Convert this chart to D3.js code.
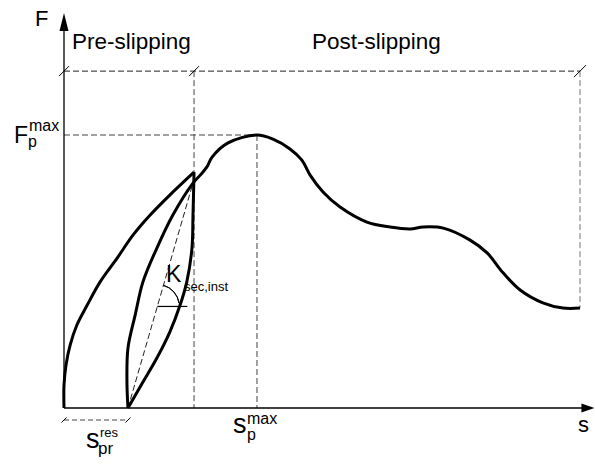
<!DOCTYPE html>
<html>
<head>
<meta charset="utf-8">
<script src="https://cdn.jsdelivr.net/npm/d3@7"></script>
<style>
  body { margin: 0; background: #fff; }
  text { font-family: "Liberation Sans", Arial, sans-serif; fill: #000; }
</style>
</head>
<body>
<svg id="dessin" width="595" height="465"></svg>
<script>
// courbes (s, F) - unités arbitraires, Fmax = 100
const loading = [[0, 0], [0, 8.4], [0.4, 15.8], [1.2, 23.1], [2.5, 30.4], [4.5, 37.7], [7.0, 46.2], [10.3, 54.9],
  [13.4, 63.4], [16.7, 70.7], [20.5, 78.0], [25.2, 86.4]];
const unloading = [[25.2, 86.4], [25.0, 70.7], [24.8, 58.6], [23.8, 46.2], [22.5, 37.7], [20.5, 27.8], [18.0, 18.3],
  [15.3, 9.5], [12.4, 0]];
const reloading = [[12.4, 0], [12.2, 9.5], [12.4, 22.0], [13.8, 34.1], [15.3, 46.2], [18.0, 58.6], [21.1, 70.7],
  [25.0, 82.4], [26.4, 85.3], [27.7, 88.3], [28.7, 91.9], [31.8, 97.1], [37.4, 100], [40.5, 98.5], [43.8, 94.9],
  [46.1, 90.8], [47.7, 85.3], [50.2, 79.1], [53.5, 73.6], [58.7, 68.1], [63.2, 66.3], [67.1, 65.6], [69.6, 66.3],
  [73.5, 65.9], [78.7, 61.5], [82.0, 56.8], [85.1, 49.5], [88.4, 43.2], [92.8, 38.5], [96.7, 36.6], [100, 36.6]];

// repères
const sRes = 12.4, sSlip = 25.2, sPeak = 37.4, sEnd = 100;
const Fmax = 100, Fband = 123.4, Fend = 36.6;
const secant = [[12.4, 0], [25.0, 82.4]];
const Fangle = 37.2, sAngleEnd = 23.9;
const sAxisMax = 102.8, FAxisMax = 144.7;

const svg = d3.select("#dessin");
const x = d3.scaleLinear().domain([0, 100]).range([64, 580]);
const y = d3.scaleLinear().domain([0, 100]).range([408, 135]);

const line = d3.line().x(d => x(d[0])).y(d => y(d[1])).curve(d3.curveCatmullRom.alpha(0.5));
const straight = d3.line().x(d => x(d[0])).y(d => y(d[1]));

// lignes pointillées
function dash(p, col) {
    svg.append("path")
        .attr("d", straight(p))
        .style("fill", "none")
        .style("stroke", col || "#444")
        .style("stroke-width", 1)
        .style("stroke-dasharray", "6,3")
}
dash([[0, Fband], [sEnd, Fband]], "#222")
dash([[sSlip, Fband], [sSlip, 0]])
dash([[sEnd, Fband], [sEnd, Fend]], "#777")
dash([[0, Fmax], [sPeak, Fmax]])
dash([[sPeak, Fmax], [sPeak, 0]])
dash(secant, "#222")

// petit repère s_pr^res
svg.append("line")
    .attr("x1", x(0)).attr("x2", x(sRes))
    .attr("y1", y(0) + 12).attr("y2", y(0) + 12)
    .style("stroke", "#444").style("stroke-dasharray", "5,3")

// traits obliques
function slash(s, yy, h) {
    svg.append("line")
        .attr("x1", x(s) - h).attr("y1", yy + h)
        .attr("x2", x(s) + h).attr("y2", yy - h)
        .style("stroke", "#000").style("stroke-width", 1)
}
slash(0, y(Fband), 5)
slash(sSlip, y(Fband), 5)
slash(sEnd, y(Fband), 6)
slash(0, y(0) + 12, 2.5)
slash(sRes, y(0) + 12, 2.5)

// axes
svg.append("line")
    .attr("x1", x(0)).attr("y1", y(0)).attr("x2", x(0)).attr("y2", y(FAxisMax) + 10)
    .style("stroke", "#000").style("stroke-width", 1.3)
svg.append("line")
    .attr("x1", x(0)).attr("y1", y(0)).attr("x2", x(sAxisMax) - 10).attr("y2", y(0))
    .style("stroke", "#000").style("stroke-width", 1.3)
svg.append("path")
    .attr("d", `M${x(0)},${y(FAxisMax)}L${x(0) + 4.5},${y(FAxisMax) + 18}L${x(0) - 4.5},${y(FAxisMax) + 18}Z`)
    .style("fill", "#000")
svg.append("path")
    .attr("d", `M${x(sAxisMax)},${y(0)}L${x(sAxisMax) - 13},${y(0) - 4.5}L${x(sAxisMax) - 13},${y(0) + 4.5}Z`)
    .style("fill", "#000")

// courbes
const courbes = [loading, unloading, reloading]
svg.selectAll(".courbe")
    .data(courbes)
    .enter()
    .append("path")
    .attr("class", "courbe")
    .attr("d", line)
    .style("fill", "none")
    .style("stroke", "#000")
    .style("stroke-width", 3)
    .style("stroke-linejoin", "round")

// angle K sec,inst
const ax = x(secant[0][0]) + (x(secant[1][0]) - x(secant[0][0])) * Fangle / secant[1][1];
const ay = y(Fangle);
svg.append("line")
    .attr("x1", ax).attr("y1", ay).attr("x2", x(sAngleEnd)).attr("y2", ay)
    .style("stroke", "#000").style("stroke-width", 1.2)
const ang = Math.atan2(x(secant[1][0]) - x(secant[0][0]), y(secant[0][1]) - y(secant[1][1]));
const arc = d3.arc().innerRadius(22).outerRadius(22).startAngle(ang).endAngle(Math.PI / 2 - 0.15);
svg.append("path")
    .attr("d", arc())
    .attr("transform", `translate(${ax},${ay})`)
    .style("fill", "none").style("stroke", "#000").style("stroke-width", 1)

// textes
function txt(t, xx, yy, size, anchor) {
    return svg.append("text")
        .attr("x", xx).attr("y", yy)
        .style("font-size", size + "px")
        .style("text-anchor", anchor || "start")
        .text(t)
}
txt("F", x(0) - 29, 26, 22)
txt("s", x(sEnd) - 2, y(0) + 24, 22)
txt("Pre-slipping", x(0) + 8, 49, 22.5)
txt("Post-slipping", 312, 49, 22.5)

txt("F", 14, y(Fmax) + 8, 23)
txt("p", 28, y(Fmax) + 12, 16)
txt("max", 29, y(Fmax) - 4, 16)

txt("K", x(0) + 102, y(0) - 126, 23)
txt("sec,inst", x(0) + 120, y(0) - 117, 13)

txt("s", 86, y(0) + 40, 27)
txt("res", 100, y(0) + 29, 13)
txt("pr", 98, y(0) + 46, 17)

txt("s", x(sPeak) - 24, y(0) + 25, 27)
txt("max", x(sPeak) - 10, y(0) + 16, 16)
txt("p", x(sPeak) - 10, y(0) + 32, 16)
</script>
</body>
</html>
